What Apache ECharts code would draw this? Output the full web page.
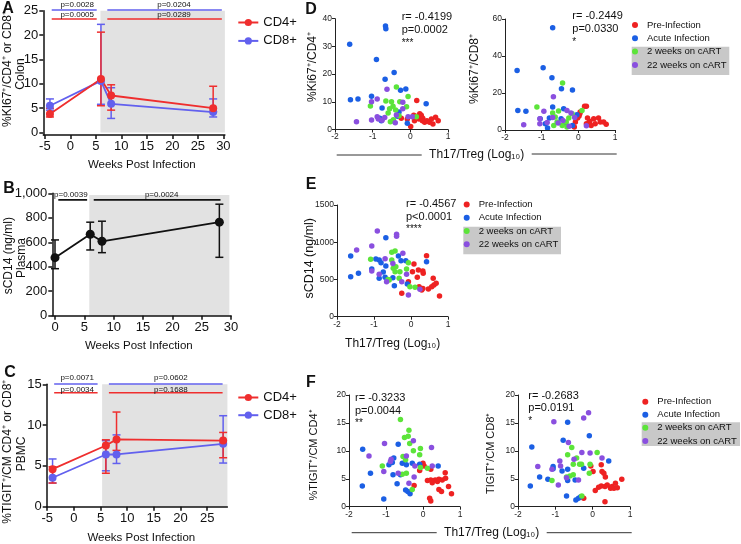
<!DOCTYPE html>
<html><head><meta charset="utf-8">
<script src="https://cdn.jsdelivr.net/npm/echarts@6/dist/echarts.min.js"></script>
<style>html,body{margin:0;padding:0;background:#fff}#c{width:741px;height:544px}</style>
</head><body><div id="c"></div><script>
// ---------- DATA ----------
const weeksA = [-4, 6, 8, 28];
const aCD4Mean = [3.8, 11.0, 7.6, 5.0];
const aCD4Lo = [3.2, 5.5, 4.6, 4.3];
const aCD4Hi = [5.0, 20.6, 9.8, 9.5];
const aCD8Mean = [5.5, 10.6, 5.9, 4.2];
const aCD8Lo = [4.6, 5.8, 2.9, 3.2];
const aCD8Hi = [6.9, 22.2, 9.2, 6.9];

const weeksB = [0, 6, 8, 28];
const bMean = [474, 665, 608, 764];
const bLo = [384, 537, 515, 477];
const bHi = [619, 764, 772, 911];

const weeksC = [-4, 6, 8, 28];
const cCD4Mean = [4.6, 7.5, 8.25, 8.1];
const cCD4Lo = [2.9, 4.1, 6.9, 6.0];
const cCD4Hi = [4.9, 8.2, 11.6, 9.1];
const cCD8Mean = [3.55, 6.4, 6.4, 7.7];
const cCD8Lo = [2.9, 4.4, 5.3, 5.35];
const cCD8Hi = [5.85, 8.1, 8.8, 11.15];

// cART shading (weeks)
const shadeA = [5.9, 30.3], shadeB = [5.84, 29.7], shadeC = [5.3, 28.8];

// significance bars: [x1, x2, y, label, colour key]
const sigA = [[-3.65, 5.17, 25.14, 'p=0.0028', 'b'], [-3.65, 5.17, 23.3, 'p=0.0005', 'r'],
              [7.25, 29.7, 25.14, 'p=0.0204', 'b'], [7.25, 29.7, 23.3, 'p=0.0289', 'r']];
const sigB = [[0.56, 5.47, 946, 'p=0.0039', 'k'], [6.6, 28.2, 946, 'p=0.0024', 'k']];
const sigC = [[-3.7, 4.45, 15.04, 'p=0.0071', 'b'], [-3.7, 4.45, 13.97, 'p=0.0034', 'r'],
              [6.57, 27.9, 15.04, 'p=0.0602', 'b'], [6.57, 27.9, 13.97, 'p=0.1688', 'r']];

const groups = ['Pre-Infection', 'Acute Infection', '2 weeks on cART', '22 weeks on cART'];

const dL_pre = [[0.09,5.1],[0.18,4.8],[0.25,5.7],[0.29,5.1],[0.33,4.1],[0.23,3.8],[0.32,3.2],[0.38,2.6],[0.44,3.2],[0.51,2.6],[0.56,3.8],[0.67,4.4],[0.74,3.2],[0.6,2.0],[0.17,10.5],[-0.24,4.1],[0.01,1.1],[-0.08,3.8],[0.11,3.2]];
const dL_acute = [[-0.66,37.4],[-0.65,36.4],[-1.61,30.8],[-0.9,25.3],[-0.43,20.6],[-0.67,18.1],[-0.12,14.6],[-0.26,14.2],[-1.59,10.7],[-1.39,11.0],[-1.03,12.0],[0.42,9.3],[-0.75,7.8],[-0.81,4.1],[-0.77,3.2],[-0.3,6.3],[-0.34,4.8],[-0.08,2.3],[-0.46,3.2]];
const dL_2wk = [[-0.37,15.3],[-0.06,11.9],[-1.06,8.5],[-0.65,10.3],[-0.5,10.0],[-0.46,8.4],[-0.28,10.0],[-0.39,7.0],[-0.59,6.0],[-0.1,8.2],[-0.53,2.8],[-0.45,3.5],[0.16,4.6],[-0.55,7.5],[-0.3,5.0]];
const dL_22wk = [[-0.62,14.5],[-0.88,11.0],[-1.03,10.0],[-1.43,2.8],[-1.03,3.4],[-0.88,4.6],[-0.85,3.8],[-0.68,4.3],[-0.37,5.2],[-0.4,2.4],[-0.06,4.6],[0.05,4.6],[-0.2,9.8],[-0.75,3.3],[-0.2,7.5]];

const dR_pre = [[0.17,12.8],[0.22,12.8],[0.04,8.8],[-0.02,6.5],[0.25,6.5],[0.31,4.7],[0.42,6.1],[0.55,6.5],[0.6,4.3],[0.46,3.4],[0.69,4.3],[0.76,3.1],[0.35,2.5],[0.22,3.4],[-0.11,1.6],[0.05,9.7],[0.02,7.6],[-0.08,4.3]];
const dR_acute = [[-0.7,55.3],[-1.67,32.1],[-0.96,33.7],[-0.72,28.3],[-0.46,22.3],[-0.16,21.6],[-1.65,10.6],[-1.43,10.1],[-0.7,12.4],[-1.04,6.1],[-0.9,3.4],[-0.84,1.1],[-0.79,6.5],[-0.4,11.5],[-0.47,6.1],[-0.04,8.3],[-0.16,2.5],[-0.35,3.4]];
const dR_2wk = [[-0.43,25.4],[-1.13,12.4],[-0.7,9.2],[-0.54,10.3],[-0.63,7.0],[-0.58,4.3],[-0.44,2.5],[-0.33,4.3],[-0.26,6.5],[0.1,10.5],[-0.17,8.8],[-0.67,2.5],[-0.31,1.6]];
const dR_22wk = [[-0.68,18.0],[-0.94,10.2],[-0.31,10.6],[-0.2,9.2],[-1.49,2.9],[-1.05,6.1],[-1.05,3.4],[0.22,2.3],[-0.42,5.2],[-0.85,4.0],[-0.1,6.8],[-0.55,3.8],[-0.7,6.8],[-0.25,2.0]];

const e_pre = [[0.42,819],[0.08,707],[0.2,627],[0.32,613],[0.33,582],[0.04,604],[0.17,529],[-0.07,470],[-0.25,314],[0.22,403],[0.29,358],[0.32,380],[0.47,372],[0.56,403],[0.62,425],[0.68,448],[0.6,515],[0.77,278]];
const e_acute = [[-1.63,815],[-1.63,537],[-1.42,582],[-0.68,1060],[-0.95,775],[-0.86,761],[-0.81,725],[-1.06,640],[-0.86,515],[-0.68,680],[-0.7,529],[-0.34,815],[-0.27,752],[-0.14,752],[-0.49,524],[-0.45,416],[0.42,738],[-0.1,439],[-0.75,600]];
const e_2wk = [[-1.09,770],[-0.52,864],[-0.43,882],[-0.07,725],[-0.12,640],[-0.48,650],[-0.43,604],[-0.3,604],[-0.59,493],[-0.32,515],[-0.03,403],[0.11,394],[-0.52,761],[-0.41,671],[-0.62,500]];
const e_22wk = [[-0.91,1150],[-1.47,895],[-1.06,949],[-1.06,613],[-0.86,569],[-0.7,778],[-0.49,716],[-0.39,1106],[-0.39,1080],[-0.22,851],[-0.12,569],[-0.25,470],[-0.07,291],[-0.66,470],[0.24,367]];

const fL_pre = [[-0.09,6.5],[0.03,7.3],[0.21,6.7],[-0.24,3.8],[0.12,4.7],[0.21,4.8],[0.25,4.3],[0.33,4.8],[0.39,4.5],[0.43,4.9],[0.52,4.8],[0.6,6.1],[0.61,5.1],[0.69,3.6],[0.77,2.3],[0.43,3.1],[0.5,2.7],[0.18,1.5],[0.21,1.0],[0.0,7.8]];
const fL_acute = [[-1.63,10.3],[-1.64,3.7],[-1.42,6.0],[-1.06,1.4],[-0.67,11.2],[-0.92,7.5],[-0.83,7.9],[-0.79,8.7],[-0.56,7.8],[-0.81,5.7],[-0.61,5.7],[-0.7,4.1],[-0.47,3.0],[-0.41,2.7],[-0.35,2.3],[-0.45,7.5],[-0.29,7.8],[-0.09,7.6],[0.41,7.3]];
const fL_2wk = [[-0.61,15.6],[-0.38,13.7],[-0.5,12.4],[-0.4,12.6],[-0.36,11.3],[-0.07,10.4],[-0.26,10.0],[-0.09,9.3],[-0.54,9.0],[-0.47,8.4],[-1.1,7.3],[-0.56,5.8],[-0.45,6.0],[-0.07,7.0],[0.12,6.9],[-0.29,3.1]];
const fL_22wk = [[-1.04,11.3],[-1.46,9.1],[-1.06,6.3],[-0.88,8.1],[-0.86,8.5],[-0.67,6.0],[-0.45,9.1],[-0.26,11.8],[0.23,10.6],[-0.38,4.2],[-0.24,5.3],[0.25,7.3],[-0.22,7.3]];

const fR_pre = [[-0.05,7.3],[0.01,6.3],[0.23,7.5],[0.25,6.3],[0.3,6.0],[0.34,5.3],[0.16,3.5],[0.23,3.7],[0.33,3.6],[0.39,3.9],[0.48,3.3],[0.52,3.6],[0.57,3.3],[0.66,3.4],[0.61,4.2],[0.78,4.9],[0.07,2.9],[0.33,0.9],[-0.24,1.5]];
const fR_acute = [[-1.63,10.7],[-1.67,3.7],[-1.42,5.3],[-0.67,15.1],[-0.79,11.9],[-0.09,12.7],[-1.06,7.2],[-1.06,6.8],[-0.82,6.4],[-0.67,6.7],[-1.2,4.9],[-0.67,4.7],[-0.47,4.8],[-0.24,6.9],[-0.7,1.9],[-0.45,1.2],[-0.38,1.5],[-0.32,1.8],[0.43,8.2]];
const fR_2wk = [[-0.56,10.6],[-0.67,9.3],[-0.43,8.7],[-0.52,7.6],[-0.35,7.6],[-0.3,7.6],[0.12,9.7],[-0.07,7.6],[-0.09,6.0],[-1.09,4.7],[-0.7,5.3],[-0.61,5.5],[-0.52,5.7],[-0.29,1.9]];
const fR_22wk = [[-0.11,16.8],[-0.24,15.9],[-1.04,15.2],[-0.65,11.5],[-0.29,9.7],[-0.07,9.6],[-0.5,8.5],[-0.88,8.2],[-1.47,7.2],[-1.09,6.7],[-0.86,7.3],[-0.92,3.9],[-0.7,5.2],[-0.38,4.8],[0.25,8.7]];

const ticksA_x = [-5,0,5,10,15,20,25,30];
const ticksA_y = [0,5,10,15,20,25];
const ticksB_x = [0,5,10,15,20,25,30];
const ticksC_x = [-5,0,5,10,15,20,25];

// ---------- STYLE ----------
const FF = "'Liberation Sans', Arial, Helvetica, sans-serif";
const RED = '#ef2e2e', BLU = '#6260ee', BLK = '#111111';
const GC = ['#ee2222', '#1b5fe4', '#5ce43a', '#8a4fdf'];
const sigCol = {r: RED, b: BLU, k: BLK};

const chart = echarts.init(document.getElementById('c'), null, {renderer: 'canvas'});

function bigAxis(extra, custom) {
  const ax = {
    type: 'value', z: 6,
    axisLine: {show: true, onZero: false, lineStyle: {color: BLK, width: 1.5}},
    axisTick: {show: true, length: 4, inside: false, lineStyle: {color: BLK, width: 1.5}},
    axisLabel: {fontSize: 13, color: BLK, fontFamily: FF, margin: 5},
    splitLine: {show: false}
  };
  if (custom) { ax.axisTick.customValues = custom; ax.axisLabel.customValues = custom; }
  return Object.assign(ax, extra);
}
function smallAxis(extra) {
  return Object.assign({
    type: 'value', z: 6,
    axisLine: {show: true, onZero: false, lineStyle: {color: '#222', width: 1}},
    axisTick: {show: true, length: 3, lineStyle: {color: '#222', width: 1}},
    axisLabel: {fontSize: 8.5, color: '#222', fontFamily: FF, margin: 3, formatter: v => String(v)},
    splitLine: {show: false}
  }, extra);
}

const grid = [
  {left: 43.3, top: 10.7, width: 181.6, height: 124.3},
  {left: 52.3, top: 193.3, width: 178.8, height: 122.4},
  {left: 46.7, top: 384.3, width: 180.7, height: 122.4},
  {left: 335, top: 18.7, width: 113, height: 110.8},
  {left: 505, top: 19, width: 110, height: 111},
  {left: 337, top: 205, width: 111, height: 111.7},
  {left: 349, top: 395, width: 111, height: 111.7},
  {left: 518, top: 395, width: 112, height: 111.7}
];

const xAxis = [
  bigAxis({gridIndex: 0, min: -5.3, max: 30.3}, ticksA_x),
  bigAxis({gridIndex: 1, min: -0.46, max: 30}, ticksB_x),
  bigAxis({gridIndex: 2, min: -5.1, max: 28.8}, ticksC_x),
  smallAxis({gridIndex: 3, min: -2, max: 1, interval: 1}),
  smallAxis({gridIndex: 4, min: -2, max: 1, interval: 1}),
  smallAxis({gridIndex: 5, min: -2, max: 1, interval: 1}),
  smallAxis({gridIndex: 6, min: -2, max: 1, interval: 1}),
  smallAxis({gridIndex: 7, min: -2, max: 1, interval: 1})
];
const yAxis = [
  bigAxis({gridIndex: 0, min: -0.5, max: 25}, ticksA_y),
  bigAxis({gridIndex: 1, min: 0, max: 1000, interval: 200}),
  bigAxis({gridIndex: 2, min: 0, max: 15, interval: 5}),
  smallAxis({gridIndex: 3, min: 0, max: 40, interval: 10}),
  smallAxis({gridIndex: 4, min: 0, max: 60, interval: 20}),
  smallAxis({gridIndex: 5, min: 0, max: 1500, interval: 500}),
  smallAxis({gridIndex: 6, min: 0, max: 20, interval: 5}),
  smallAxis({gridIndex: 7, min: 0, max: 20, interval: 5})
];

const series = [];

function shade(gi, xr, yr) {
  series.push({type: 'custom', xAxisIndex: gi, yAxisIndex: gi, z: 1, silent: true,
    data: [[xr[0], yr[0], xr[1], yr[1]]],
    renderItem: (p, api) => {
      const a = api.coord([api.value(0), api.value(3)]);
      const b = api.coord([api.value(2), api.value(1)]);
      return {type: 'rect', shape: {x: a[0], y: a[1], width: b[0] - a[0], height: b[1] - a[1]}, style: {fill: '#e2e2e2'}};
    }});
}
function errBars(gi, xs, lo, hi, color, cap) {
  series.push({type: 'custom', xAxisIndex: gi, yAxisIndex: gi, z: 4, silent: true,
    data: xs.map((x, i) => [x, lo[i], hi[i]]),
    renderItem: (p, api) => {
      const x = api.value(0);
      const p1 = api.coord([x, api.value(1)]), p2 = api.coord([x, api.value(2)]);
      const st = {stroke: color, lineWidth: 1.5};
      return {type: 'group', children: [
        {type: 'line', shape: {x1: p1[0], y1: p1[1], x2: p2[0], y2: p2[1]}, style: st},
        {type: 'line', shape: {x1: p1[0] - cap, y1: p1[1], x2: p1[0] + cap, y2: p1[1]}, style: st},
        {type: 'line', shape: {x1: p2[0] - cap, y1: p2[1], x2: p2[0] + cap, y2: p2[1]}, style: st}
      ]};
    }});
}
function meanLine(gi, name, xs, ys, color, size) {
  series.push({type: 'line', name: name, xAxisIndex: gi, yAxisIndex: gi, z: 5,
    data: xs.map((x, i) => [x, ys[i]]), symbol: 'circle', symbolSize: size, showSymbol: true,
    itemStyle: {color: color}, lineStyle: {color: color, width: 1.8}, animation: false, clip: false});
}
function sigBars(gi, bars) {
  bars.forEach(b => {
    series.push({type: 'line', xAxisIndex: gi, yAxisIndex: gi, z: 5, clip: false, silent: true,
      data: [[b[0], b[2]], [b[1], b[2]]], symbol: 'none', animation: false,
      lineStyle: {color: sigCol[b[4]], width: 1.6}});
  });
}
function scat(gi, arrs) {
  arrs.forEach((d, k) => {
    series.push({type: 'scatter', name: groups[k], xAxisIndex: gi, yAxisIndex: gi, z: 5,
      data: d, symbol: 'circle', symbolSize: 5.5, itemStyle: {color: GC[k], opacity: 1}, animation: false, clip: false});
  });
}

// A
shade(0, shadeA, [0, 25]);
errBars(0, weeksA, aCD8Lo, aCD8Hi, BLU, 4);
meanLine(0, 'CD8+', weeksA, aCD8Mean, BLU, 8);
errBars(0, weeksA, aCD4Lo, aCD4Hi, RED, 4);
meanLine(0, 'CD4+', weeksA, aCD4Mean, RED, 8);
sigBars(0, sigA);
// B
shade(1, shadeB, [0, 987]);
errBars(1, weeksB, bLo, bHi, BLK, 4);
meanLine(1, 'sCD14', weeksB, bMean, BLK, 9);
sigBars(1, sigB);
// C
shade(2, shadeC, [0, 15]);
errBars(2, weeksC, cCD8Lo, cCD8Hi, BLU, 4);
meanLine(2, 'CD8+', weeksC, cCD8Mean, BLU, 8);
errBars(2, weeksC, cCD4Lo, cCD4Hi, RED, 4);
meanLine(2, 'CD4+', weeksC, cCD4Mean, RED, 8);
sigBars(2, sigC);
// D-F scatter
scat(3, [dL_pre, dL_acute, dL_2wk, dL_22wk]);
scat(4, [dR_pre, dR_acute, dR_2wk, dR_22wk]);
scat(5, [e_pre, e_acute, e_2wk, e_22wk]);
scat(6, [fL_pre, fL_acute, fL_2wk, fL_22wk]);
scat(7, [fR_pre, fR_acute, fR_2wk, fR_22wk]);

function lineLegend(left, top, gap) {
  return {show: true, orient: 'vertical', left: left, top: top, padding: 0, itemGap: gap, itemWidth: 20, itemHeight: 9,
    data: ['CD4+', 'CD8+'], selectedMode: false, z: 10,
    textStyle: {fontSize: 13, color: BLK, fontFamily: FF, lineHeight: 13}};
}
function grpLegend(left, top, lh) {
  return {show: true, orient: 'vertical', left: left, top: top, padding: 0, itemGap: 0, itemWidth: 14, itemHeight: 6,
    icon: 'circle', data: groups, selectedMode: false, z: 10,
    textStyle: {fontSize: 9.5, color: '#111', fontFamily: FF, lineHeight: lh}};
}

function T(t, x, y, size, o) {
  o = o || {};
  return {type: 'text', x: x, y: y, rotation: o.rot || 0, z: 20, silent: true,
    style: {text: t, fontSize: size, fontFamily: FF, fontWeight: o.bold ? 'bold' : 'normal', fill: o.fill || '#111',
      align: o.align || 'center', verticalAlign: 'middle'}};
}
function L(x1, y1, x2, y2) {
  return {type: 'line', z: 20, silent: true, shape: {x1: x1, y1: y1, x2: x2, y2: y2}, style: {stroke: '#333', lineWidth: 1}};
}
function R(x, y, w, h) {
  return {type: 'rect', z: 0, silent: true, shape: {x: x, y: y, width: w, height: h}, style: {fill: '#c8c8c8'}};
}
const R90 = Math.PI / 2;
const graphics = [
  // panel letters
  T('A', 8, 9, 16, {bold: true}), T('B', 9, 189, 16, {bold: true}), T('C', 10, 373, 16, {bold: true}),
  T('D', 311, 10, 16, {bold: true}), T('E', 311, 185, 16, {bold: true}), T('F', 311, 383, 16, {bold: true}),
  // A
  T('%KI67\u207A/CD4\u207A or CD8\u207A', 7.5, 69, 12, {rot: R90}), T('Colon', 20.5, 74, 12, {rot: R90}),
  T('Weeks Post Infection', 141.8, 165.3, 11.5),
  T('p=0.0028', 77.2, 4.7, 8), T('p=0.0005', 77.2, 15, 8), T('p=0.0204', 174, 4.7, 8), T('p=0.0289', 174, 15, 8),
  // B
  T('sCD14 (ng/ml)', 8.3, 255.7, 12, {rot: R90}), T('Plasma', 21.7, 258, 12, {rot: R90}),
  T('Weeks Post Infection', 138.8, 345.7, 11.5),
  T('p=0.0039', 70.8, 195, 8), T('p=0.0024', 161.7, 195, 8),
  // C
  T('%TIGIT\u207A/CM CD4\u207A or CD8\u207A', 7.5, 451.7, 12, {rot: R90}), T('PBMC', 22, 454, 12, {rot: R90}),
  T('Weeks Post Infection', 141.3, 538.3, 11.5),
  T('p=0.0071', 77.2, 377.3, 8), T('p=0.0034', 77.2, 389.3, 8), T('p=0.0602', 170.8, 377.3, 8), T('p=0.1688', 170.8, 389.3, 8),
  // D
  T('%Ki67\u207A/CD4\u207A', 312.5, 67, 12, {rot: R90}), T('%Ki67\u207A/CD8\u207A', 475, 69, 12, {rot: R90}),
  T('Th17/Treg (Log\u2081\u2080)', 476.7, 155, 12), L(336.7, 155, 421.7, 155), L(531.7, 154, 616.7, 154),
  T('r= -0.4199', 401.7, 16.7, 11, {align: 'left'}), T('p=0.0002', 401.7, 30, 11, {align: 'left'}), T('***', 401.7, 43.3, 10, {align: 'left'}),
  T('r= -0.2449', 572.3, 16, 11, {align: 'left'}), T('p=0.0330', 572.3, 29.3, 11, {align: 'left'}), T('*', 572.3, 42.6, 10, {align: 'left'}),
  R(631.7, 46.7, 97.6, 28.3),
  // E
  T('sCD14 (ng/ml)', 310, 258.3, 12.5, {rot: R90}),
  T('Th17/Treg (Log\u2081\u2080)', 392.7, 343.3, 12),
  T('r= -0.4567', 406, 204, 11, {align: 'left'}), T('p<0.0001', 406, 216.7, 11, {align: 'left'}), T('****', 406, 229.4, 10, {align: 'left'}),
  R(463.3, 226.7, 97.7, 27.6),
  // F
  T('%TIGIT\u207A/CM CD4\u207A', 314, 455, 11, {rot: R90}), T('TIGIT\u207A/CM CD8\u207A', 490.8, 453.3, 11, {rot: R90}),
  T('Th17/Treg (Log\u2081\u2080)', 491.7, 532.7, 12), L(351.7, 532.7, 436.7, 532.7), L(546.7, 532.7, 631.7, 532.7),
  T('r= -0.3233', 355, 398.3, 11, {align: 'left'}), T('p=0.0044', 355, 411, 11, {align: 'left'}), T('**', 355, 423.7, 10, {align: 'left'}),
  T('r= -0.2683', 528.3, 395.7, 11, {align: 'left'}), T('p=0.0191', 528.3, 408.3, 11, {align: 'left'}), T('*', 528.3, 421, 10, {align: 'left'}),
  R(641.7, 422.3, 98.3, 23.7)
];

chart.setOption({
  animation: false,
  backgroundColor: '#ffffff',
  textStyle: {fontFamily: FF},
  grid: grid, xAxis: xAxis, yAxis: yAxis, series: series,
  legend: [
    lineLegend(237.3, 16, 5.4),
    lineLegend(237.3, 391, 4.7),
    grpLegend(632, 18.35, 13.3),
    grpLegend(463.7, 198, 13.2),
    grpLegend(642.3, 395.1, 13.1)
  ],
  graphic: {elements: graphics}
});
</script></body></html>
